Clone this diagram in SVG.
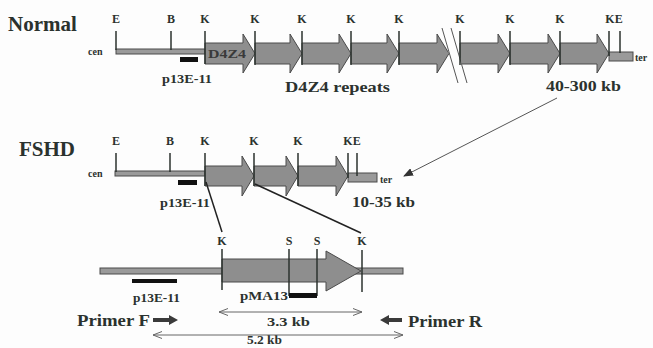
<svg xmlns="http://www.w3.org/2000/svg" width="653" height="348" viewBox="0 0 653 348">
<defs>
<style>
text{font-family:"Liberation Serif","Times New Roman",serif;font-weight:bold;fill:#2b322e}
.t{font-size:12px;text-anchor:middle}
.big{font-size:21px}
.sm{font-size:10px}
.lab{font-size:13px}
.kb{font-size:15px}
.arr{fill:#8e8e8e;stroke:#4a4a4a;stroke-width:1}
.bar{fill:#9a9a9a;stroke:#4a4a4a;stroke-width:1}
.tick{stroke:#2b322e;stroke-width:1.5}
.probe{fill:#111}
.conn{stroke:#222;stroke-width:1.5;fill:none}
.dim{stroke:#666;stroke-width:1;fill:none}
</style>
<marker id="open" viewBox="0 0 10 8" refX="9" refY="4" markerWidth="10" markerHeight="8" markerUnits="userSpaceOnUse" orient="auto-start-reverse">
<path d="M0,0.5 L9,4 L0,7.5" fill="none" stroke="#666" stroke-width="1"/>
</marker>
<marker id="solid" viewBox="0 0 10 8" refX="9" refY="4" markerWidth="10" markerHeight="8" markerUnits="userSpaceOnUse" orient="auto">
<path d="M0,0 L10,4 L0,8 Z" fill="#333"/>
</marker>
</defs>
<rect width="653" height="348" fill="#fdfdfd"/>

<g id="normal">
<text class="big" x="8" y="31">Normal</text>
<rect class="bar" x="116" y="49" width="89" height="5"/>
<text class="sm" x="88" y="55">cen</text>
<path class="arr" d="M205,43 H243 V34 L255,53.5 L243,73 V64 H205 Z"/>
<path class="arr" d="M255,43 H290 V34 L302,53.5 L290,73 V64 H255 Z"/>
<path class="arr" d="M302,43 H339 V34 L351,53.5 L339,73 V64 H302 Z"/>
<path class="arr" d="M351,43 H387 V34 L399,53.5 L387,73 V64 H351 Z"/>
<path class="arr" d="M399,43 H437 V34 L449,53.5 L437,73 V64 H399 Z"/>
<path class="arr" d="M460,43 H498 V34 L510,53.5 L498,73 V64 H460 Z"/>
<path class="arr" d="M510,43 H548 V34 L560,53.5 L548,73 V64 H510 Z"/>
<path class="arr" d="M560,43 H597 V34 L609,53.5 L597,73 V64 H560 Z"/>
<polygon points="442,28 452,28 467,83 457,83" fill="#fdfdfd"/>
<line x1="442" y1="28" x2="458" y2="83" stroke="#555" stroke-width="1"/>
<line x1="451" y1="28" x2="467" y2="83" stroke="#555" stroke-width="1"/>
<rect class="bar" x="609" y="52" width="24" height="9"/>
<text class="sm" x="635" y="61">ter</text>
<line class="tick" x1="116" y1="31" x2="116" y2="50"/>
<line class="tick" x1="171" y1="31" x2="171" y2="50"/>
<line class="tick" x1="205" y1="31" x2="205" y2="64"/>
<line class="tick" x1="255" y1="31" x2="255" y2="65"/>
<line class="tick" x1="302" y1="31" x2="302" y2="65"/>
<line class="tick" x1="351" y1="31" x2="351" y2="65"/>
<line class="tick" x1="399" y1="31" x2="399" y2="65"/>
<line class="tick" x1="460" y1="31" x2="460" y2="65"/>
<line class="tick" x1="510" y1="31" x2="510" y2="65"/>
<line class="tick" x1="560" y1="31" x2="560" y2="65"/>
<line class="tick" x1="609" y1="31" x2="609" y2="56"/>
<line class="tick" x1="620" y1="31" x2="620" y2="53"/>
<text class="t" x="116" y="23">E</text>
<text class="t" x="171" y="23">B</text>
<text class="t" x="205" y="23">K</text>
<text class="t" x="255" y="23">K</text>
<text class="t" x="302" y="23">K</text>
<text class="t" x="351" y="23">K</text>
<text class="t" x="399" y="23">K</text>
<text class="t" x="460" y="23">K</text>
<text class="t" x="510" y="23">K</text>
<text class="t" x="560" y="23">K</text>
<text class="t" x="614" y="23">KE</text>
<rect class="probe" x="180" y="57" width="18" height="5"/>
<text class="lab" x="162" y="83" textLength="50" lengthAdjust="spacingAndGlyphs">p13E-11</text>
<text x="208" y="58" font-size="12" textLength="38" lengthAdjust="spacingAndGlyphs" style="fill:#3a3a3a">D4Z4</text>
<text class="kb" x="285" y="92" textLength="105" lengthAdjust="spacingAndGlyphs">D4Z4 repeats</text>
<text class="kb" x="546" y="91" textLength="75" lengthAdjust="spacingAndGlyphs">40-300 kb</text>
</g>

<g id="fshd">
<text class="big" x="19" y="156">FSHD</text>
<rect class="bar" x="115" y="171" width="90" height="5"/>
<text class="sm" x="88" y="177">cen</text>
<path class="arr" d="M205,166 H242 V156 L254,176 L242,196 V186 H205 Z"/>
<path class="arr" d="M254,166 H286 V156 L298,176 L286,196 V186 H254 Z"/>
<path class="arr" d="M298,166 H336 V156 L348,176 L336,196 V186 H298 Z"/>
<rect class="bar" x="348" y="173" width="29" height="9"/>
<text class="sm" x="380" y="183">ter</text>
<line class="tick" x1="116" y1="153" x2="116" y2="172"/>
<line class="tick" x1="170" y1="153" x2="170" y2="172"/>
<line class="tick" x1="205" y1="153" x2="205" y2="186"/>
<line class="tick" x1="254" y1="153" x2="254" y2="186"/>
<line class="tick" x1="298" y1="153" x2="298" y2="186"/>
<line class="tick" x1="348" y1="153" x2="348" y2="178"/>
<line class="tick" x1="357" y1="153" x2="357" y2="176"/>
<text class="t" x="116" y="145">E</text>
<text class="t" x="170" y="145">B</text>
<text class="t" x="205" y="145">K</text>
<text class="t" x="254" y="145">K</text>
<text class="t" x="298" y="145">K</text>
<text class="t" x="352" y="145">KE</text>
<rect class="probe" x="178" y="180" width="19" height="5"/>
<text class="lab" x="160" y="207" textLength="50" lengthAdjust="spacingAndGlyphs">p13E-11</text>
<text class="kb" x="352" y="207" textLength="63" lengthAdjust="spacingAndGlyphs">10-35 kb</text>
</g>

<g id="detail">
<rect class="bar" x="100" y="268" width="303" height="6"/>
<path class="arr" d="M222,259 H326 V251 L361,271 L326,291 V282 H222 Z"/>
<line class="tick" x1="222" y1="249" x2="222" y2="290"/>
<line class="tick" x1="289" y1="249" x2="289" y2="296"/>
<line class="tick" x1="317" y1="249" x2="317" y2="296"/>
<line class="tick" x1="362" y1="250" x2="362" y2="292"/>
<text class="t" x="222" y="245">K</text>
<text class="t" x="289" y="245">S</text>
<text class="t" x="317" y="245">S</text>
<text class="t" x="362" y="245">K</text>
<rect class="probe" x="289" y="293" width="28" height="5"/>
<rect class="probe" x="132" y="279" width="45" height="4"/>
<text class="lab" x="133" y="302" textLength="47" lengthAdjust="spacingAndGlyphs">p13E-11</text>
<text class="lab" x="240" y="300" textLength="48" lengthAdjust="spacingAndGlyphs">pMA13</text>
</g>

<g id="primers">
<text x="77" y="326" font-size="16" textLength="73" lengthAdjust="spacingAndGlyphs">Primer F</text>
<path d="M153,318 H169 V315 L178,320 L169,325 V322 H153 Z" fill="#3a3a3a"/>
<path d="M402,318 H389 V315 L380,320 L389,325 V322 H402 Z" fill="#3a3a3a"/>
<text x="408" y="327" font-size="16" textLength="74" lengthAdjust="spacingAndGlyphs">Primer R</text>
<text class="lab" x="267" y="326" textLength="43" lengthAdjust="spacingAndGlyphs">3.3 kb</text>
<text x="247" y="344" font-size="12" textLength="35" lengthAdjust="spacingAndGlyphs">5.2 kb</text>
</g>

<g id="connectors">
<line class="conn" x1="206" y1="182" x2="222" y2="232"/>
<line class="conn" x1="255" y1="184" x2="361" y2="233"/>
<line x1="557" y1="98" x2="404" y2="176" stroke="#555" stroke-width="1" marker-end="url(#solid)"/>
<line class="dim" x1="219" y1="312" x2="362" y2="312" marker-start="url(#open)" marker-end="url(#open)"/>
<line class="dim" x1="153" y1="335" x2="403" y2="335" marker-start="url(#open)" marker-end="url(#open)"/>
</g>
</svg>
